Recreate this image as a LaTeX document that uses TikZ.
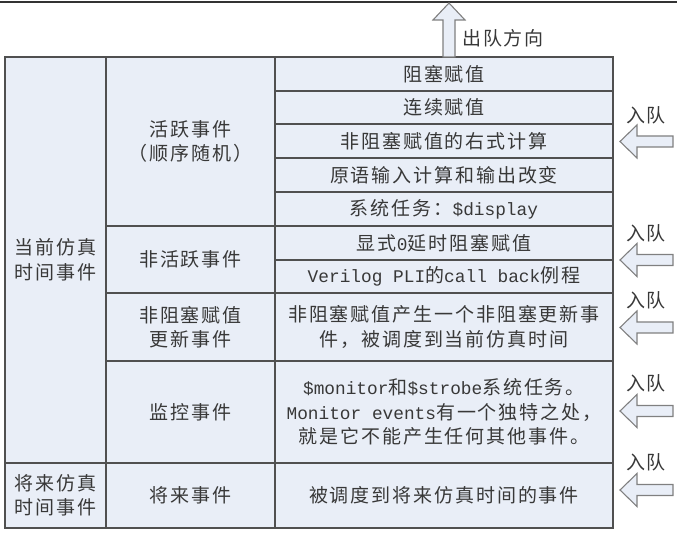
\documentclass[tikz,border=0pt]{standalone}
\usepackage{fontspec}
\setmainfont{Noto Sans CJK SC}[LetterSpace=10]
\newfontfamily\mono{Liberation Mono}
\definecolor{cellc}{HTML}{E9EEF7}
\definecolor{linec}{HTML}{505050}
\definecolor{arrc}{HTML}{808080}
\definecolor{txtc}{HTML}{383838}
\tikzset{
  cell/.style={draw=linec, fill=cellc, line width=1.2pt, inner sep=0pt, outer sep=0pt,
    align=center, text=txtc, font=\fontsize{19}{24.5}\selectfont},
  lbl/.style={text=txtc, align=center, inner sep=0pt, font=\fontsize{19}{24.5}\selectfont},
  qarrow/.style={draw=arrc, fill=cellc, line width=1.1pt, line join=miter}
}
\newcommand{\mt}[1]{{\mono\fontsize{17.8}{24.5}\selectfont #1}}
\begin{document}
\begin{tikzpicture}[x=1pt,y=-1pt]
\useasboundingbox (0,0) rectangle (686,534);
% top rule
\coordinate (tl) at (0,2);
\coordinate (tr) at (677,2);
\draw[draw=black!80, line width=1.3pt] (tl) -- (tr);
% column 1
\node[cell, minimum width=101pt, minimum height=406pt] (cur) at (55.5,260) {当前仿真\\时间事件};
\node[cell, minimum width=101pt, minimum height=65pt] (fut) at (55.5,495.5) {将来仿真\\时间事件};
% column 2
\node[cell, minimum width=169pt, minimum height=169pt] (act) at (190.5,141.5) {活跃事件\\（顺序随机）};
\node[cell, minimum width=169pt, minimum height=67pt] (inact) at (190.5,259.5) {非活跃事件};
\node[cell, minimum width=169pt, minimum height=68pt] (nba) at (190.5,327) {非阻塞赋值\\更新事件};
\node[cell, minimum width=169pt, minimum height=102pt] (mon) at (190.5,412) {监控事件};
\node[cell, minimum width=169pt, minimum height=65pt] (futev) at (190.5,495.5) {将来事件};
% column 3
\node[cell, minimum width=338pt, minimum height=34pt] (r1) at (444,74) {阻塞赋值};
\node[cell, minimum width=338pt, minimum height=33pt] (r2) at (444,107.5) {连续赋值};
\node[cell, minimum width=338pt, minimum height=34pt] (r3) at (444,141) {非阻塞赋值的右式计算};
\node[cell, minimum width=338pt, minimum height=34pt] (r4) at (444,175) {原语输入计算和输出改变};
\node[cell, minimum width=338pt, minimum height=34pt] (r5) at (444,209) {系统任务：\mt{\$display}};
\node[cell, minimum width=338pt, minimum height=34pt] (r6) at (444,243) {显式\mt{0}延时阻塞赋值};
\node[cell, minimum width=338pt, minimum height=33pt] (r7) at (444,276.5) {\mt{Verilog PLI}的\mt{call back}例程};
\node[cell, minimum width=338pt, minimum height=68pt] (r8) at (444,327) {非阻塞赋值产生一个非阻塞更新事\\件，被调度到当前仿真时间};
\node[cell, minimum width=338pt, minimum height=102pt] (r9) at (444,412) {\mt{\$monitor}和\mt{\$strobe}系统任务。\\\mt{Monitor events}有一个独特之处，\\就是它不能产生任何其他事件。};
\node[cell, minimum width=338pt, minimum height=65pt] (r10) at (444,495.5) {被调度到将来仿真时间的事件};
% dequeue arrow
\draw[qarrow] (449,3) -- (465,20) -- (455,20) -- (455,57) -- (443,57) -- (443,20) -- (433,20) -- cycle;
\node[lbl, anchor=west] (deq) at (462,38) {出队方向};
% enqueue arrows
\foreach \c/\l [count=\i] in {141.5/115, 260/233, 327.5/300, 411/383, 490/462} {
  \draw[qarrow] (620,\c) -- (637,\c-16.5) -- (637,\c-5.5) -- (673,\c-5.5)
     -- (673,\c+5.5) -- (637,\c+5.5) -- (637,\c+16.5) -- cycle;
  \node[lbl] (enq\i) at (646,\l) {入队};
}
\end{tikzpicture}
\end{document}
